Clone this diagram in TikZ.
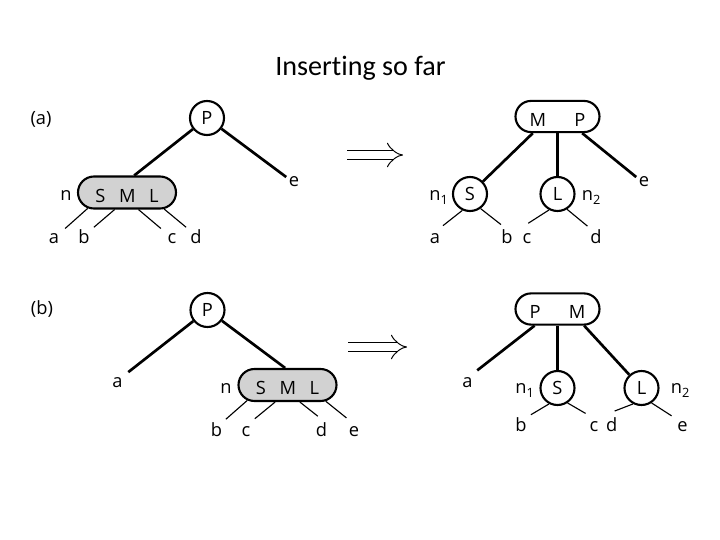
\documentclass[tikz,border=0pt]{standalone}
\usepackage{fontspec}
\setmainfont{Open Sans}
\newfontfamily\titlefont[Ligatures=NoCommon]{Carlito}
\usetikzlibrary{arrows.meta,shapes.misc}
\newcommand\keyfont{\fontsize{13}{15}\selectfont}
\tikzset{
  keynode/.style={circle, draw=black, line width=1.5pt, minimum size=8.5mm, inner sep=0pt, font=\keyfont},
  fullnode/.style={rounded rectangle, draw=black, fill=gray!35, line width=1.5pt, minimum width=24.5mm, minimum height=8mm, inner sep=0pt, text height=14pt, text depth=0pt, font=\keyfont},
  twonode/.style={rounded rectangle, draw=black, fill=white, line width=1.5pt, minimum width=21mm, minimum height=7.8mm, inner sep=0pt, text height=14pt, text depth=0pt, font=\keyfont},
  leaf/.style={circle, inner sep=0pt, minimum size=7mm, text height=9.2pt, text depth=0pt, font=\keyfont},
  side/.style={inner sep=0pt, text height=9.2pt, text depth=0pt, font=\keyfont},
  link/.style={line width=1.9pt},
  sublink/.style={line width=0.8pt},
  implies/.style={double, double distance=5.6pt, line width=0.7pt, -{Implies}}
}

\begin{document}
\begin{tikzpicture}[x=0.25mm, y=-0.25mm]
  \useasboundingbox (0,0) rectangle (720,540);
  \node[font=\titlefont\fontsize{20}{24}\selectfont] (title) at (360.5,68) {Inserting so far};

  \node[font=\keyfont] (tagA) at (41,119) {(a)};
  \node[keynode] (Pa) at (207,118) {P};
  \node[fullnode] (SMLa) at (127,192.5) {S\hspace{0.75em}M\hspace{0.75em}L};
  \node[side] (na) at (66,194.5) {n};
  \node[leaf] (a1) at (54,237.5) {a};
  \node[leaf] (b1) at (84,237.5) {b};
  \node[leaf] (c1) at (172,237.5) {c};
  \node[leaf] (d1) at (196,237.5) {d};
  \node[leaf, minimum size=4mm] (e1) at (294,180.5) {e};
  \draw[link] (Pa) -- (SMLa.67);
  \draw[link] (Pa) -- (e1.156);
  \draw[sublink] (SMLa.202) -- (a1.39);
  \draw[sublink] (SMLa.234) -- (b1.46);
  \draw[sublink] (SMLa.304) -- (c1.141);
  \draw[sublink] (SMLa.336) -- (d1.134);

  \coordinate (ia1) at (347,155);
  \coordinate (ia2) at (403,155);
  \draw[implies] (ia1) -- (ia2);

  \node[twonode] (MPa) at (557.5,116.5) {M\hspace{1.55em}P};
  \node[keynode] (Sa) at (470,194) {S};
  \node[keynode] (La) at (557.5,194) {L};
  \node[side] (n1a) at (439,194.5) {n\textsubscript{1}};
  \node[side] (n2a) at (591.5,194.5) {n\textsubscript{2}};
  \node[leaf] (a2) at (435,237.5) {a};
  \node[leaf] (b2) at (507,237.5) {b};
  \node[leaf] (c2) at (527,237.5) {c};
  \node[leaf] (d2) at (596,237.5) {d};
  \node[leaf, minimum size=4mm] (e2) at (644,180.5) {e};
  \draw[link] (MPa.214) -- (Sa);
  \draw[link] (MPa.south) -- (La);
  \draw[link] (MPa.326) -- (e2.156);
  \draw[sublink] (Sa.245) -- (a2.56);
  \draw[sublink] (Sa.306) -- (b2.115);
  \draw[sublink] (La.242) -- (c2.85);
  \draw[sublink] (La.302) -- (d2.127);

  \node[font=\keyfont] (tagB) at (42,309) {(b)};
  \node[keynode] (Pb) at (207.5,310) {P};
  \node[fullnode] (SMLb) at (287.5,385) {S\hspace{0.75em}M\hspace{0.75em}L};
  \node[side] (nb) at (226,387.5) {n};
  \node[leaf] (a3) at (117.5,381.5) {a};
  \node[leaf] (b3) at (216.5,430) {b};
  \node[leaf] (c3) at (246,430) {c};
  \node[leaf] (d3) at (321.5,430) {d};
  \node[leaf] (e3) at (354,430) {e};
  \draw[link] (Pb) -- (a3.41);
  \draw[link] (Pb) -- (SMLb.98);
  \draw[sublink] (SMLb.201) -- (b3.49);
  \draw[sublink] (SMLb.234) -- (c3.52);
  \draw[sublink] (SMLb.306) -- (d3.105);
  \draw[sublink] (SMLb.337) -- (e3.122);

  \coordinate (ib1) at (348,347);
  \coordinate (ib2) at (407,347);
  \draw[implies] (ib1) -- (ib2);

  \node[twonode] (PMb) at (557.5,309) {P\hspace{1.55em}M};
  \node[keynode] (Sb) at (557.5,388) {S};
  \node[keynode] (Lb) at (641.5,388) {L};
  \node[side] (n1b) at (525,387.5) {n\textsubscript{1}};
  \node[side] (n2b) at (680.5,387.5) {n\textsubscript{2}};
  \node[leaf] (a4) at (467.5,380.8) {a};
  \node[leaf] (b4) at (521,425) {b};
  \node[leaf] (c4) at (594,425) {c};
  \node[leaf] (d4) at (611.7,425) {d};
  \node[leaf] (e4) at (682.5,425) {e};
  \draw[link] (PMb.216) -- (a4.47);
  \draw[link] (PMb.south) -- (Sb);
  \draw[link] (PMb.328) -- (Lb);
  \draw[sublink] (Sb.242) -- (b4.46);
  \draw[sublink] (Sb.304) -- (c4.126);
  \draw[sublink] (Lb.242) -- (d4.78);
  \draw[sublink] (Lb.304) -- (e4.140);
\end{tikzpicture}
\end{document}
